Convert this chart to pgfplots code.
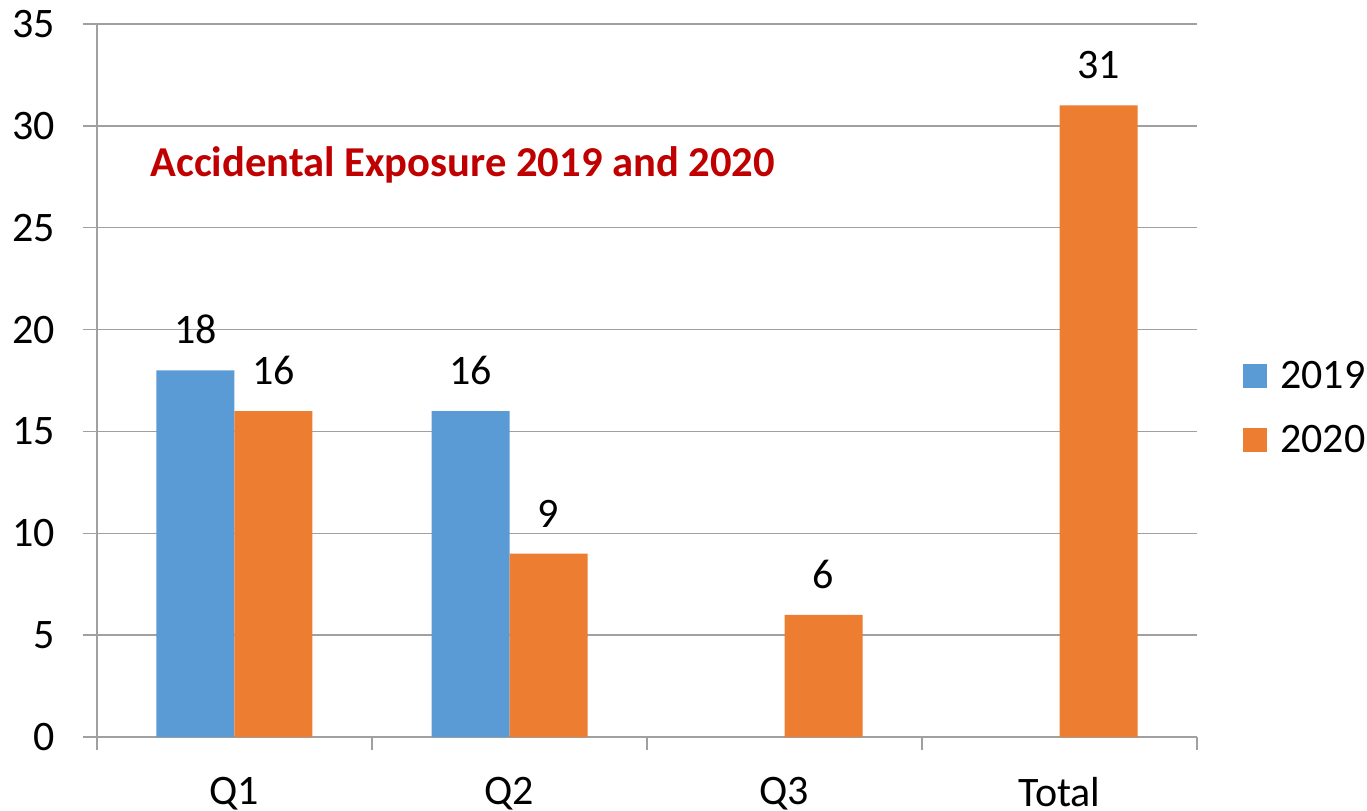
\documentclass[border=0pt]{standalone}
\usepackage{pgfplots}
\pgfplotsset{compat=1.18}
\usepackage{fontspec}
\setmainfont{Carlito}
\definecolor{bluebar}{HTML}{5B9BD5}
\definecolor{orangebar}{HTML}{ED7D31}
\definecolor{gridgray}{HTML}{A0A0A0}
\definecolor{titlered}{HTML}{C00000}
\newcommand{\chartfont}{\fontsize{21}{25}\selectfont}
\begin{document}
\begin{tikzpicture}
\begin{axis}[
  scale only axis,
  width=550pt, height=356.5pt,
  ybar=0pt, bar width=39pt,
  xmin=-0.5, xmax=3.5,
  ymin=0, ymax=35,
  ytick={0,5,...,35},
  xtick={0,1,2,3},
  xticklabels={Q1,Q2,Q3,Total},
  axis lines*=left,
  axis line style={draw=gridgray, line width=0.75pt},
  ymajorgrids, grid style={gridgray, line width=0.75pt},
  ytick align=outside, ytick style={draw=gridgray, line width=0.75pt},
  major tick length=7pt,
  xtick style={draw=none},
  extra x ticks={-0.5,0.5,1.5,2.5,3.5},
  extra x tick labels={},
  extra x tick style={xtick style={draw=gridgray, line width=0.75pt}, tick align=outside, major tick length=6.5pt},
  /pgf/number format/assume math mode=true,
  tick label style={font=\chartfont, inner sep=0pt},
  yticklabel style={anchor=east, xshift=-14pt},
  xticklabel style={anchor=north, yshift=-13pt},
  nodes near coords,
  every node near coord/.append style={font=\chartfont, inner sep=0pt, anchor=south, yshift=13pt, black},
  legend style={at={(rel axis cs:1.0418,0.528)}, anchor=north west, draw=none, fill=none,
    inner sep=0pt, row sep=17pt, column sep=6.5pt, font=\chartfont, nodes={inner sep=0pt}},
  legend cell align=left,
  legend image code/.code={\fill[#1, draw=none] (0pt,-6pt) rectangle (12pt,6pt);},
]
\addplot[fill=bluebar, draw=none] coordinates {(0,18)(1,16)};
\addlegendentry{2019}
\addplot[fill=orangebar, draw=none] coordinates {(0,16)(1,9)(2,6)(3,31)};
\addlegendentry{2020}
\node[anchor=west, inner sep=0pt, text=titlered, font=\fontsize{21.3}{25}\selectfont\bfseries]
  at (rel axis cs:0.0482,0.802) {Accidental Exposure 2019 and 2020};
\end{axis}
\pgfresetboundingbox
\path (-48.5pt,-36.5pt) rectangle (635pt,368.5pt);
\end{tikzpicture}
\end{document}
